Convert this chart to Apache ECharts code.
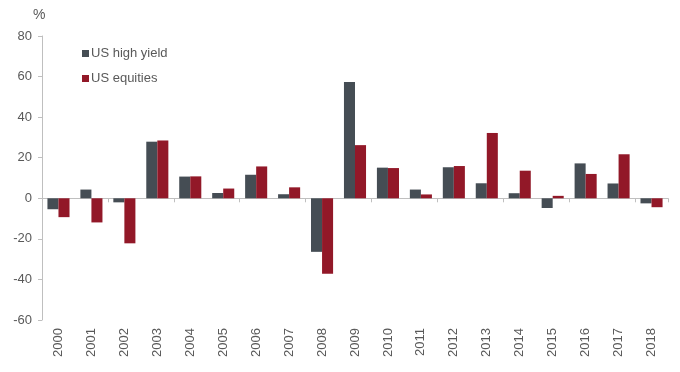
<!DOCTYPE html>
<html><head><meta charset="utf-8">
<script src="https://cdn.jsdelivr.net/npm/echarts@6/dist/echarts.min.js"></script>
<style>html,body{margin:0;padding:0;background:#fff}#c{width:680px;height:372px}</style>
</head><body><div id="c"></div>
<script>
const years = ['2000','2001','2002','2003','2004','2005','2006','2007','2008','2009','2010','2011','2012','2013','2014','2015','2016','2017','2018'];
const highYield = [-5.4, 4.3, -2.0, 27.9, 10.7, 2.6, 11.6, 2.0, -26.4, 57.3, 15.1, 4.3, 15.3, 7.4, 2.5, -4.8, 17.2, 7.3, -2.5];
const equities = [-9.3, -11.9, -22.2, 28.5, 10.8, 4.8, 15.7, 5.4, -37.2, 26.2, 14.9, 1.9, 15.9, 32.2, 13.6, 1.2, 12.0, 21.7, -4.4];
const yTicks = {min: -60, max: 80, interval: 20};

const txt = '#595959';
const font = '"Liberation Sans", Arial, sans-serif';
const chart = echarts.init(document.getElementById('c'));
chart.setOption({
  animation: false,
  textStyle: {fontFamily: font},
  title: {text: '%', left: 28, top: 3, textStyle: {fontFamily: font, fontSize: 14, color: txt, fontWeight: 'normal'}},
  legend: {
    orient: 'vertical', left: 77, top: 42, itemWidth: 7, itemHeight: 7, itemGap: 12,
    icon: 'rect',
    textStyle: {fontFamily: font, fontSize: 13, color: txt, padding: [0,0,0,-3]},
    data: ['US high yield', 'US equities']
  },
  grid: {left: 42, right: 12, top: 36, bottom: 52},
  xAxis: [
    {type: 'category', data: years, position: 'bottom',
     axisLine: {onZero: true, lineStyle: {color: '#bfbfbf', width: 1}},
     axisTick: {show: true, length: 4, lineStyle: {color: '#bfbfbf'}},
     axisLabel: {show: false}},
    {type: 'category', data: years, position: 'bottom',
     axisLine: {show: false, onZero: false}, axisTick: {show: false},
     axisLabel: {rotate: 90, margin: 8, fontSize: 13, color: txt, fontFamily: font}}
  ],
  yAxis: {type: 'value', min: yTicks.min, max: yTicks.max, interval: yTicks.interval,
    axisLine: {show: true, lineStyle: {color: '#bfbfbf'}},
    axisTick: {show: true, length: 4, lineStyle: {color: '#bfbfbf'}},
    splitLine: {show: false},
    axisLabel: {fontSize: 13, color: txt, fontFamily: font, margin: 10}},
  series: [
    {name: 'US high yield', type: 'bar', xAxisIndex: 0, data: highYield, barGap: '0%', barCategoryGap: '33%',
     itemStyle: {color: '#454d54'}},
    {name: 'US equities', type: 'bar', xAxisIndex: 0, data: equities, barGap: '0%', barCategoryGap: '33%',
     itemStyle: {color: '#921828'}}
  ]
});
</script></body></html>
